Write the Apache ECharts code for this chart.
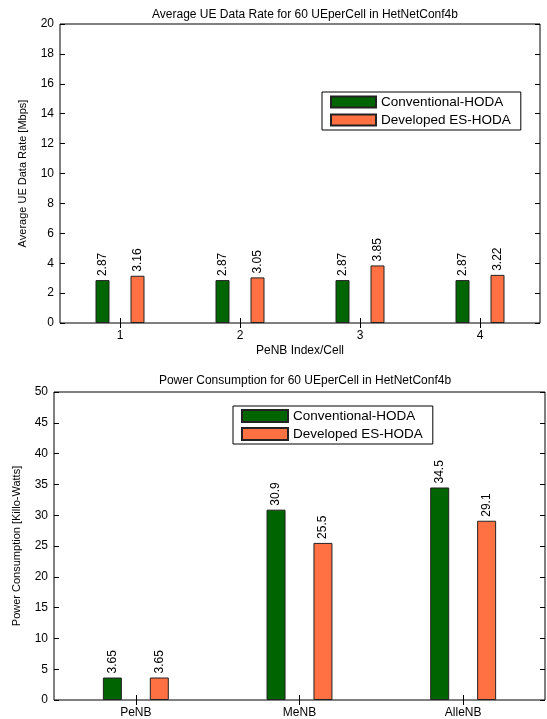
<!DOCTYPE html>
<html>
<head>
<meta charset="utf-8">
<script src="https://cdn.jsdelivr.net/npm/echarts@6/dist/echarts.min.js"></script>
<style>
html,body{margin:0;padding:0;background:#fff;}
#chart{width:547px;height:719px;}
</style>
</head>
<body>
<div id="chart"></div>
<script>
const seriesNames = ['Conventional-HODA', 'Developed ES-HODA'];
const rateCategories = ['1', '2', '3', '4'];
const rateConventional = [2.87, 2.87, 2.87, 2.87];
const rateDeveloped = [3.16, 3.05, 3.85, 3.22];
const powerCategories = ['PeNB', 'MeNB', 'AlleNB'];
const powerConventional = [3.65, 30.9, 34.5];
const powerDeveloped = [3.65, 25.5, 29.1];

const GREEN = '#006400';
const ORANGE = '#FF7043';
const FONT = 'Liberation Sans';

const chart = echarts.init(document.getElementById('chart'), null, {renderer: 'canvas'});

function label() {
  return {
    show: true, position: 'top', rotate: 90, align: 'left', verticalAlign: 'middle',
    distance: 4, color: '#000', fontFamily: FONT, fontSize: 12
  };
}
const axisLab = {color: '#000', fontFamily: FONT, fontSize: 12};

function catAxis(gi, data, pos, showLabel, name) {
  return {
    type: 'category', gridIndex: gi, data: data, position: pos,
    axisLine: {show: false},
    axisTick: {show: true, inside: true, alignWithLabel: true, length: 5, lineStyle: {color: '#000'}},
    axisLabel: Object.assign({show: showLabel, margin: 7}, axisLab),
    name: name || '', nameLocation: 'middle', nameGap: 22,
    nameTextStyle: {color: '#000', fontFamily: FONT, fontSize: 12}
  };
}
function valAxis(gi, max, interval, pos, showLabel, name) {
  return {
    type: 'value', gridIndex: gi, min: 0, max: max, interval: interval, position: pos,
    axisLine: {show: false},
    axisTick: {show: true, inside: true, length: 5, lineStyle: {color: '#000'}},
    axisLabel: Object.assign({show: showLabel, margin: 6}, axisLab),
    splitLine: {show: false},
    name: name || '', nameLocation: 'middle', nameGap: 32,
    nameTextStyle: {color: '#000', fontFamily: FONT, fontSize: 11}
  };
}

const option = {
  backgroundColor: '#fff',
  animation: false,
  title: [
    {text: 'Average UE Data Rate for 60 UEperCell in HetNetConf4b', left: 300, top: 4, textAlign: 'center',
     textStyle: {fontFamily: FONT, fontSize: 12, fontWeight: 'normal', color: '#000'}},
    {text: 'Power Consumption for 60 UEperCell in HetNetConf4b', left: 300, top: 370, textAlign: 'center',
     textStyle: {fontFamily: FONT, fontSize: 12, fontWeight: 'normal', color: '#000'}}
  ],
  legend: [
    {data: seriesNames, orient: 'vertical', left: 322, top: 92, itemWidth: 45, itemHeight: 11, itemGap: 4,
     padding: [3, 10, 3, 8], borderColor: '#000', borderWidth: 1, backgroundColor: '#fff', icon: 'rect',
     textStyle: {fontFamily: FONT, fontSize: 13.5, color: '#000'}},
    {data: seriesNames, orient: 'vertical', left: 233, top: 406, itemWidth: 46, itemHeight: 12, itemGap: 4,
     padding: [3, 10, 3, 8], borderColor: '#000', borderWidth: 1, backgroundColor: '#fff', icon: 'rect',
     textStyle: {fontFamily: FONT, fontSize: 13.5, color: '#000'}}
  ],
  grid: [
    {left: 60, right: 7, top: 24, bottom: 396, show: true, borderColor: '#000', borderWidth: 1, backgroundColor: '#fff'},
    {left: 54, right: 2, top: 392, bottom: 14, show: true, borderColor: '#000', borderWidth: 1, backgroundColor: '#fff'}
  ],
  xAxis: [
    catAxis(0, rateCategories, 'bottom', true, 'PeNB Index/Cell'),
    catAxis(0, rateCategories, 'top', false),
    catAxis(1, powerCategories, 'bottom', true),
    catAxis(1, powerCategories, 'top', false)
  ],
  yAxis: [
    valAxis(0, 20, 2, 'left', true, 'Average UE Data Rate [Mbps]'),
    valAxis(0, 20, 2, 'right', false),
    valAxis(1, 50, 5, 'left', true, 'Power Consumption [Killo-Watts]'),
    valAxis(1, 50, 5, 'right', false)
  ],
  series: [
    {name: seriesNames[0], type: 'bar', xAxisIndex: 0, yAxisIndex: 0, data: rateConventional,
     barWidth: 14, barGap: '150%', itemStyle: {color: GREEN, borderColor: '#222', borderWidth: 1}, label: label()},
    {name: seriesNames[1], type: 'bar', xAxisIndex: 0, yAxisIndex: 0, data: rateDeveloped,
     barWidth: 14, barGap: '150%', itemStyle: {color: ORANGE, borderColor: '#222', borderWidth: 1}, label: label()},
    {name: seriesNames[0], type: 'bar', xAxisIndex: 2, yAxisIndex: 2, data: powerConventional,
     barWidth: 19, barGap: '147%', itemStyle: {color: GREEN, borderColor: '#222', borderWidth: 1}, label: label()},
    {name: seriesNames[1], type: 'bar', xAxisIndex: 2, yAxisIndex: 2, data: powerDeveloped,
     barWidth: 19, barGap: '147%', itemStyle: {color: ORANGE, borderColor: '#222', borderWidth: 1}, label: label()}
  ]
};
chart.setOption(option);
</script>
</body>
</html>
